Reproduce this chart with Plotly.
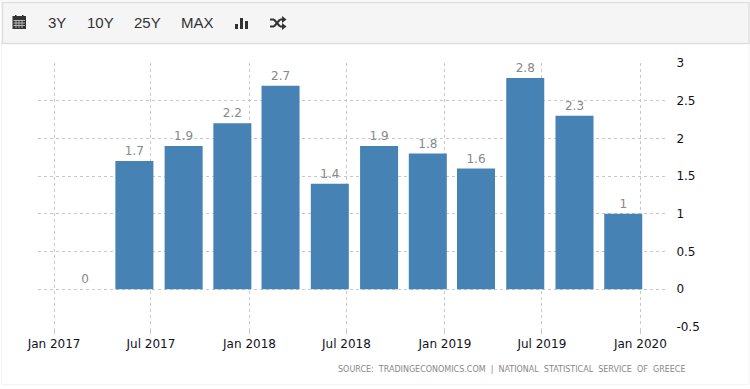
import plotly.graph_objects as go

dates = ["2017-02-28", "2017-05-31", "2017-08-31", "2017-11-30", "2018-02-28", "2018-05-31",
         "2018-08-31", "2018-11-30", "2019-02-28", "2019-05-31", "2019-08-31", "2019-11-30"]
values = [0, 1.7, 1.9, 2.2, 2.7, 1.4, 1.9, 1.8, 1.6, 2.8, 2.3, 1]
labels = ["0", "1.7", "1.9", "2.2", "2.7", "1.4", "1.9", "1.8", "1.6", "2.8", "2.3", "1"]
y_ticks = [-0.5, 0, 0.5, 1, 1.5, 2, 2.5, 3]
y_tick_labels = ["-0.5", "0", "0.5", "1", "1.5", "2", "2.5", "3"]
toolbar_labels = ["3Y", "10Y", "25Y", "MAX"]
source_text = "SOURCE:  TRADINGECONOMICS.COM  |  NATIONAL  STATISTICAL  SERVICE  OF  GREECE"

W, H = 750, 389
L, R, T, B = 38, 85, 63, 62
PW, PH = W - L - R, H - T - B


def px(x):
    return (x - L) / PW


def py(y):
    return 1 - (y - T) / PH


def rect(x0, y0, x1, y1, fill, line=None, width=1):
    return dict(type="rect", xref="paper", yref="paper", layer="below",
                x0=px(x0), x1=px(x1), y0=py(y0), y1=py(y1), fillcolor=fill,
                line=dict(color=line or fill, width=width if line else 0))


def seg(x0, y0, x1, y1, color, width):
    return dict(type="line", xref="paper", yref="paper", x0=px(x0), x1=px(x1), y0=py(y0), y1=py(y1),
                line=dict(color=color, width=width))


ICON = "#333333"
shapes = [
    rect(1.5, 0, 749, 384.5, "#ffffff", "#f4f4f4"),
    rect(2.5, 2.5, 749, 43.5, "#f5f5f5", "#e0e0e0", 1.5),
    # calendar
    rect(12.5, 16, 26, 29, ICON),
    rect(15, 15, 16.5, 18, ICON), rect(22, 15, 23.5, 18, ICON),
]
for gy in (20.5, 23, 25.5):
    shapes.append(seg(13.5, gy, 25, gy, "#cfcfcf", 0.8))
for gx in (16, 19, 22):
    shapes.append(seg(gx, 20, gx, 28, "#cfcfcf", 0.8))
# bar-chart icon
shapes += [rect(235, 24, 238, 29, ICON), rect(240, 18, 243, 29, ICON), rect(245, 21, 248, 29, ICON)]
# shuffle icon
shapes += [
    seg(270, 19.5, 274, 19.5, ICON, 2), seg(274, 19.5, 280, 26.5, ICON, 2), seg(280, 26.5, 283, 26.5, ICON, 2),
    seg(270, 26.5, 274, 26.5, ICON, 2), seg(274, 26.5, 280, 19.5, ICON, 2), seg(280, 19.5, 283, 19.5, ICON, 2),
]
for ay in (19.5, 26.5):
    shapes.append(dict(type="path", xref="paper", yref="paper", fillcolor=ICON, line=dict(width=0),
                       path=f"M{px(282)},{py(ay - 3.5)} L{px(286.5)},{py(ay)} L{px(282)},{py(ay + 3.5)} Z"))

annotations = [
    dict(text=t, x=px(cx), y=py(23), xref="paper", yref="paper", showarrow=False,
         xanchor="center", yanchor="middle", font=dict(family="Liberation Sans", size=15, color="#333333"))
    for t, cx in zip(toolbar_labels, (57, 100, 147, 197))
]
annotations.append(dict(text=source_text, x=px(688), y=py(369), xref="paper", yref="paper", showarrow=False,
                        xanchor="right", yanchor="middle",
                        font=dict(family="DejaVu Sans", size=8, color="#888888")))

fig = go.Figure(go.Bar(
    x=dates, y=values, text=labels, textposition="outside", cliponaxis=False,
    width=71 * 86400000, marker=dict(color="#4682b4", line=dict(width=0)),
    textfont=dict(family="DejaVu Sans", size=12, color="#888888"), textangle=0,
))
fig.update_layout(
    width=W, height=H, margin=dict(l=L, r=R, t=T, b=B, autoexpand=False),
    paper_bgcolor="white", plot_bgcolor="white", showlegend=False,
    shapes=shapes, annotations=annotations, font=dict(family="DejaVu Sans", size=12, color="#111122"),
    uniformtext=dict(mode=False),
)
fig.update_xaxes(type="date", range=["2016-12-02", "2020-02-16"], tick0="2017-01-01", dtick="M6",
                 tickformat="%b %Y", showgrid=True, gridcolor="#c8c8c8", griddash="dot", gridwidth=1,
                 ticks="outside", ticklen=6, tickcolor="#c8c8c8", showline=False, zeroline=False,
                 tickfont=dict(family="DejaVu Sans", size=12, color="#111122"))
fig.update_yaxes(side="right", range=[-0.5, 3], tickvals=y_ticks, ticktext=y_tick_labels,
                 showgrid=True, gridcolor="#c8c8c8", griddash="dot", gridwidth=1, zeroline=False,
                 showline=False, ticks="outside", ticklen=8, tickcolor="rgba(0,0,0,0)",
                 tickfont=dict(family="DejaVu Sans", size=12, color="#111122"))
fig.write_html("out.html", config=dict(displayModeBar=False),
               post_script="document.body.style.margin='0';document.documentElement.style.overflow='hidden';")
